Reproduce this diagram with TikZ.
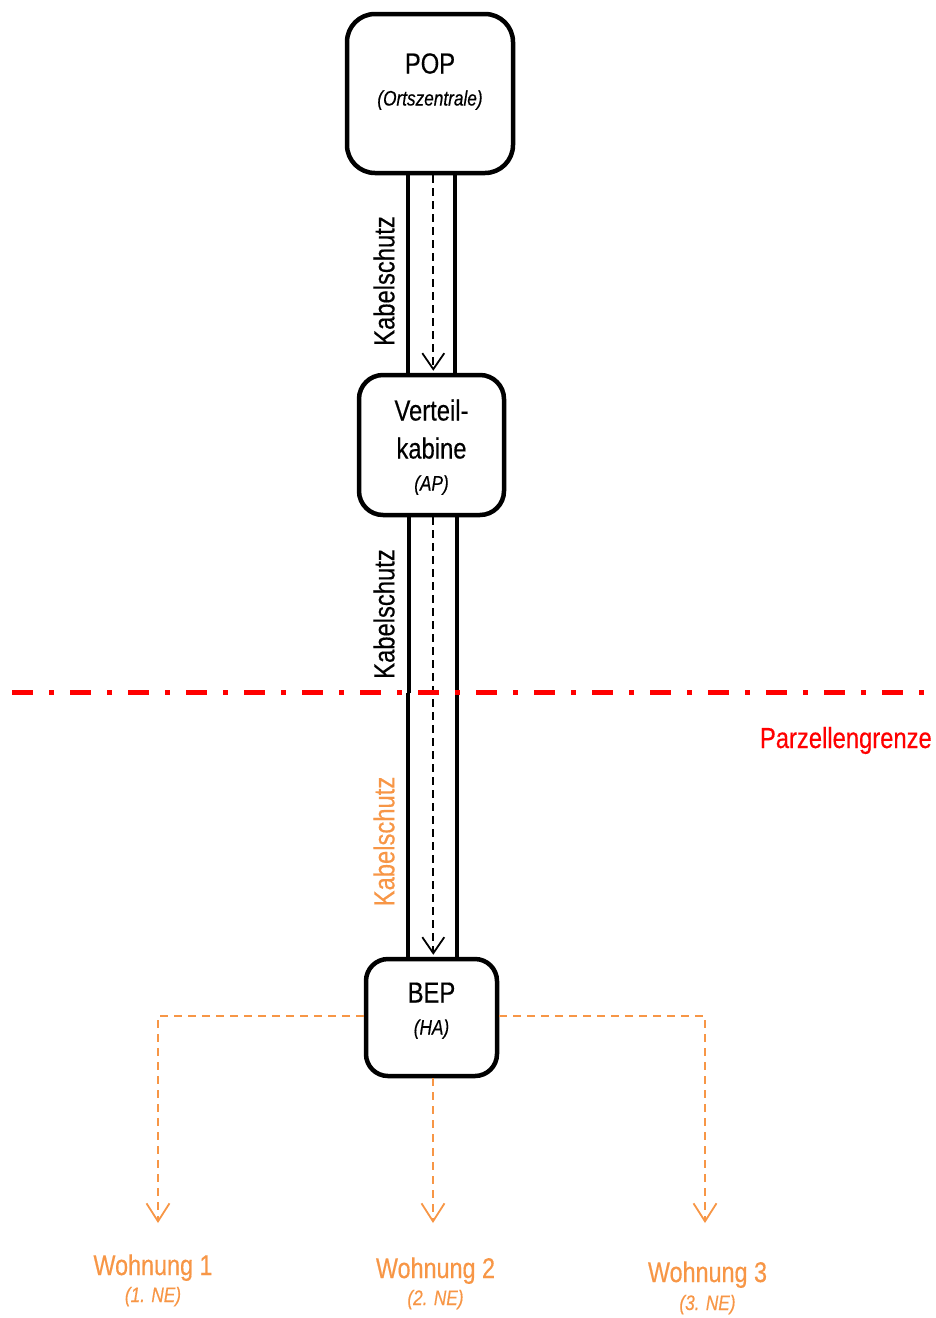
\documentclass[tikz,border=0pt]{standalone}
\usepackage{fontspec}
\setmainfont{Liberation Sans}[FakeStretch=0.82,FakeBold=0.4]
\usetikzlibrary{arrows.meta}
\definecolor{orng}{HTML}{F79646}
\definecolor{grenze}{HTML}{FF0000}
\begin{document}
\begin{tikzpicture}[x=1pt,y=-1pt,
 boxnode/.style={draw, line width=4.5pt, rectangle, inner sep=0pt},
 big/.style={font=\fontsize{29}{34}\selectfont, inner sep=0pt},
 small/.style={font=\fontsize{21}{25}\selectfont\itshape, inner sep=0pt},
 cable/.style={line width=4pt},
 fiber/.style={line width=1.8pt, dash pattern=on 8pt off 5pt, shorten >=2pt, -{Straight Barb[length=16pt,width=22pt,line width=1.8pt]}},
 drop/.style={orng, line width=2pt, dash pattern=on 8pt off 6pt, -{Straight Barb[length=18pt,width=23pt,line width=1.8pt]}},
 grenzline/.style={grenze, line width=5pt, dash pattern=on 21pt off 16pt on 5pt off 16pt},
]
\useasboundingbox (0,0) rectangle (936,1318);
% boxes
\node[boxnode, rounded corners=28pt, minimum width=166pt, minimum height=159pt] (pop) at (430,93.5) {};
\node[boxnode, rounded corners=24pt, minimum width=145pt, minimum height=140pt] (vk) at (431.5,445) {};
\node[boxnode, rounded corners=22pt, minimum width=131pt, minimum height=117pt] (bep) at (431.5,1017.5) {};
% box texts
\node[big, anchor=base] (poptxt) at (430,73.5) {POP};
\node[small, anchor=base] (popsub) at (430,105.5) {(Ortszentrale)};
\node[big, anchor=base] (vktxt1) at (431.5,420.5) {Verteil-};
\node[big, anchor=base] (vktxt2) at (431.5,458.5) {kabine};
\node[small, anchor=base] (vksub) at (431.5,490.5) {(AP)};
\node[big, anchor=base] (beptxt) at (431.5,1002.5) {BEP};
\node[small, anchor=base] (bepsub) at (431.5,1034.5) {(HA)};
% coordinates
\coordinate (c1l) at (407.5,0);
\coordinate (c1r) at (455,0);
\coordinate (f1) at (433.3,0);
\coordinate (c2l) at (409,0);
\coordinate (c3l) at (408,0);
\coordinate (c2r) at (457,0);
\coordinate (gl) at (12,692.5);
\coordinate (gr) at (934,692.5);
\coordinate (g2l) at (c2l |- gl);
\coordinate (g3l) at (c3l |- gl);
% cables POP -> Verteilkabine
\draw[cable] (pop.south -| c1l) -- (vk.north -| c1l);
\draw[cable] (pop.south -| c1r) -- (vk.north -| c1r);
\draw[fiber] (pop.south -| f1) -- (vk.north -| f1);
% cables Verteilkabine -> BEP
\draw[cable] (vk.south -| c2l) -- (g2l);
\draw[cable] (g3l) -- (bep.north -| c3l);
\draw[cable] (vk.south -| c2r) -- (bep.north -| c2r);
\draw[fiber] (vk.south -| f1) -- (bep.north -| f1);
% Parzellengrenze
\draw[grenzline] (gl) -- (gr);
\node[big, grenze, anchor=base east, font=\fontsize{29}{34}\selectfont] (pg) at (932,748) {Parzellengrenze};
% Kabelschutz labels
\node[big, rotate=90] (ks1) at (384,281) {Kabelschutz};
\node[big, rotate=90] (ks2) at (384,614) {Kabelschutz};
\node[big, rotate=90, orng] (ks3) at (384,841.5) {Kabelschutz};
% drops
\coordinate (dl) at (0,1016);
\coordinate (w1a) at (158,1223);
\coordinate (w2a) at (433,1223);
\coordinate (w3a) at (705,1223);
\draw[drop] (bep.west |- dl) -| (w1a);
\draw[drop] (bep.south -| w2a) -- (w2a);
\draw[drop] (bep.east |- dl) -| (w3a);
% Wohnungen
\node[big, orng, anchor=base, font=\fontsize{28.5}{33}\selectfont] (w1) at (153,1275) {Wohnung 1};
\node[small, orng, anchor=base] (w1s) at (153,1302) {(1. NE)};
\node[big, orng, anchor=base, font=\fontsize{28.5}{33}\selectfont] (w2) at (435.5,1278) {Wohnung 2};
\node[small, orng, anchor=base] (w2s) at (435.5,1305) {(2. NE)};
\node[big, orng, anchor=base, font=\fontsize{28.5}{33}\selectfont] (w3) at (707.5,1282) {Wohnung 3};
\node[small, orng, anchor=base] (w3s) at (707.5,1310) {(3. NE)};
\end{tikzpicture}
\end{document}
